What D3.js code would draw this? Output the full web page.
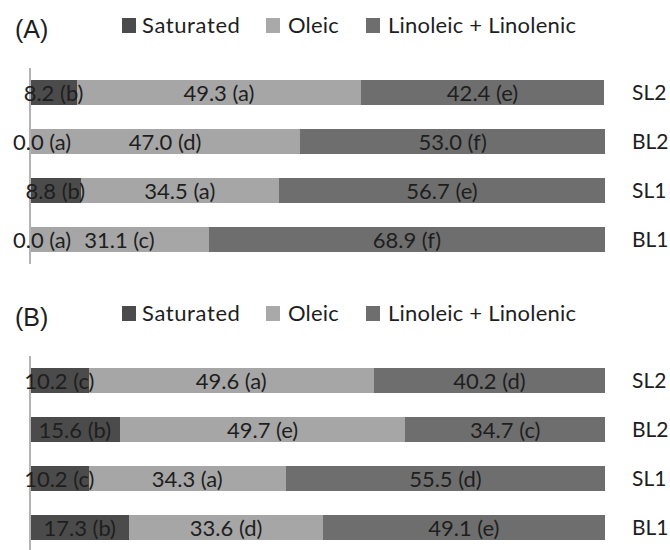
<!DOCTYPE html>
<html><head><meta charset="utf-8">
<script src="https://cdn.jsdelivr.net/npm/d3@7"></script>
<style>body{margin:0;background:#fff}svg{display:block}</style>
</head><body>
<svg id="chart" width="670" height="550"></svg>
<script>
const categories = ["SL2", "BL2", "SL1", "BL1"];
const seriesNames = ["Saturated", "Oleic", "Linoleic + Linolenic"];
const panelTitles = ["(A)", "(B)"];

const saturatedA = [8.2, 0.0, 8.8, 0.0];
const oleicA = [49.3, 47.0, 34.5, 31.1];
const linoleicA = [42.4, 53.0, 56.7, 68.9];
const saturatedLettersA = ["b", "a", "b", "a"];
const oleicLettersA = ["a", "d", "a", "c"];
const linoleicLettersA = ["e", "f", "e", "f"];

const saturatedB = [10.2, 15.6, 10.2, 17.3];
const oleicB = [49.6, 49.7, 34.3, 33.6];
const linoleicB = [40.2, 34.7, 55.5, 49.1];
const saturatedLettersB = ["c", "b", "c", "b"];
const oleicLettersB = ["a", "e", "a", "d"];
const linoleicLettersB = ["d", "c", "d", "e"];

const colors = ["#4b4b4b", "#a6a6a6", "#6e6e6e"];
const legendColors = ["#4b4b4b", "#a9a9a9", "#6e6e6e"];
const textColor = "#1e1e1e";
const labelFont = "Lato, 'Open Sans', sans-serif";

const panels = [
  {title: panelTitles[0], vals: [saturatedA, oleicA, linoleicA], lets: [saturatedLettersA, oleicLettersA, linoleicLettersA]},
  {title: panelTitles[1], vals: [saturatedB, oleicB, linoleicB], lets: [saturatedLettersB, oleicLettersB, linoleicLettersB]}
];

const svg = d3.select("#chart");
const x = d3.scaleLinear().domain([0, 100]).range([30, 605]);
const y = d3.scaleBand().domain(categories).range([68, 264]).paddingInner(0.49).paddingOuter(0.245);
const legendX = [[122, 142], [266, 288], [366, 388]];

panels.forEach((p, pi) => {
  const g = svg.append("g").attr("transform", `translate(0,${pi * 288})`);
  g.append("text").attr("x", 15).attr("y", 38)
    .attr("font-family", "'Liberation Sans', Arial, sans-serif").attr("font-size", 25)
    .attr("fill", textColor).text(p.title);

  seriesNames.forEach((s, si) => {
    g.append("rect").attr("x", legendX[si][0]).attr("y", 18).attr("width", 14).attr("height", 15)
      .attr("fill", legendColors[si]);
    g.append("text").attr("x", legendX[si][1]).attr("y", 33)
      .attr("font-family", labelFont).attr("font-size", 22).attr("fill", textColor)
      .attr("letter-spacing", si === 0 ? 0.6 : 0.2)
      .text(s);
  });

  const rows = categories.map((c, i) => {
    const o = {cat: c};
    seriesNames.forEach((s, si) => { o[s] = p.vals[si][i]; });
    return o;
  });
  const stacked = d3.stack().keys(seriesNames)(rows);

  g.append("line").attr("x1", x(0)).attr("x2", x(0)).attr("y1", 68).attr("y2", 264)
    .attr("stroke", "#b3b3b3").attr("stroke-width", 2);

  stacked.forEach((layer, si) => {
    g.selectAll(null).data(layer).enter().append("rect")
      .attr("x", d => Math.max(x(d[0]), x(0) + 1))
      .attr("y", d => y(d.data.cat))
      .attr("width", d => Math.max(0, x(d[1]) - Math.max(x(d[0]), x(0) + 1)))
      .attr("height", y.bandwidth())
      .attr("shape-rendering", "crispEdges")
      .attr("fill", colors[si]);
  });

  stacked.forEach((layer, si) => {
    layer.forEach((d, i) => {
      const t = g.append("text")
        .attr("y", y(d.data.cat) + y.bandwidth() / 2)
        .attr("dy", "0.37em")
        .attr("text-anchor", "middle")
        .attr("font-family", labelFont).attr("font-size", 22).attr("fill", textColor)
        .text(`${p.vals[si][i].toFixed(1)} (${p.lets[si][i]})`);
      const w = t.node().getComputedTextLength();
      const cx = (x(d[0]) + x(d[1])) / 2;
      t.attr("x", Math.max(cx, 13 + w / 2));
    });
  });

  g.selectAll(null).data(categories).enter().append("text")
    .attr("x", 632).attr("y", d => y(d) + y.bandwidth() / 2).attr("dy", "0.37em")
    .attr("font-family", labelFont).attr("font-size", 21).attr("fill", textColor)
    .text(d => d);
});
</script>
</body></html>
